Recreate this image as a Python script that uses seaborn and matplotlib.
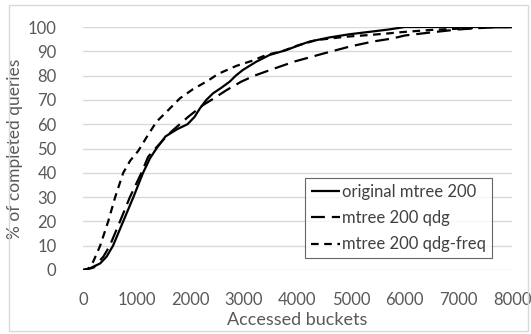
import matplotlib
matplotlib.use("Agg")
import matplotlib.pyplot as plt
import seaborn as sns
import pandas as pd
from matplotlib.patches import Rectangle

# ---- data ----
orig_x = [0, 130, 320, 440, 560, 750, 940, 1120, 1250, 1370, 1540, 1760, 1950, 2080, 2180, 2300, 2425,
          2580, 2735, 2850, 2980, 3230, 3480, 3790, 4040, 4225, 4595, 4965, 5340, 5710, 6000, 7000, 8000]
orig_y = [0, 0.7, 2.7, 5.5, 10, 20, 30, 40, 46, 50, 55, 58, 60, 63, 66.5, 70, 72.7,
          75, 77.5, 80, 82.3, 85.7, 88.5, 90.5, 92.6, 94, 95.7, 97, 98, 99, 100, 100, 100]

qdg_x = [0, 200, 380, 500, 690, 875, 1090, 1215, 1350, 1495, 1650, 1960, 2240, 2395, 2675, 2950,
         3200, 3540, 3945, 4470, 4965, 5400, 5775, 6000, 6500, 7000, 7500, 8000]
qdg_y = [0, 1, 5.5, 10, 20, 30, 40, 46.6, 50, 53.5, 57, 63, 67.9, 70, 74, 77.5,
         80, 82.7, 85.8, 89, 91.9, 94, 95.3, 96.5, 97.8, 99, 99.7, 100]

freq_x = [0, 80, 190, 320, 470, 600, 750, 880, 1030, 1185, 1370, 1590, 1805, 2050, 2330, 2520,
          2860, 3140, 3420, 3725, 3975, 4350, 4900, 5340, 5710, 6000, 6500, 7000, 7500, 8000]
freq_y = [0, 0, 3.4, 10, 20, 30, 40, 45, 49, 54.6, 61, 65.8, 70.6, 74.4, 77.9, 80.7,
          84, 86, 88.5, 90.1, 92.2, 94.6, 96, 96.7, 97.4, 98, 98.8, 99.3, 99.8, 100]

series_names = ["original mtree 200", "mtree 200 qdg", "mtree 200 qdg-freq"]
x_ticks = [0, 1000, 2000, 3000, 4000, 5000, 6000, 7000, 8000]
y_ticks = [0, 10, 20, 30, 40, 50, 60, 70, 80, 90, 100]

sns.set_theme(style="white")
plt.rcParams["font.family"] = ["Lato", "DejaVu Sans"]
plt.rcParams["lines.scale_dashes"] = False

TXT = "#595959"
W, H = 531, 334
fig = plt.figure(figsize=(W / 100, H / 100), dpi=100)
fig.patch.set_facecolor("white")
# outer chart border
fig.add_artist(Rectangle((9 / W, 1 - 331 / H), (528 - 9) / W, (331 - 5) / H,
                         transform=fig.transFigure, fill=False, edgecolor="#d9d9d9", lw=1))

ax = fig.add_axes([83 / W, 1 - 270 / H, (512 - 83) / W, (270 - 27) / H])

styles = [(0, ()), (0, (10, 5)), (0, (5.5, 4))]
data = [(orig_x, orig_y), (qdg_x, qdg_y), (freq_x, freq_y)]
for name, (xs, ys), ls in zip(series_names, data, styles):
    df = pd.DataFrame({"x": xs, "y": ys})
    sns.lineplot(data=df, x="x", y="y", ax=ax, color="black", lw=1.6,
                 linestyle=ls, label=name, sort=False, estimator=None)

ax.set_xlim(0, 8000)
ax.set_ylim(0, 100)
ax.set_xticks(x_ticks)
ax.set_yticks(y_ticks)
ax.grid(axis="y", color="#d9d9d9", lw=1)
ax.grid(axis="x", visible=False)
for s in ax.spines.values():
    s.set_visible(False)
ax.tick_params(axis="both", length=0, labelsize=12, colors=TXT)
ax.tick_params(axis="y", pad=19)
ax.tick_params(axis="x", pad=16)
ax.set_xlabel("Accessed buckets", fontsize=13, color=TXT, labelpad=3)
ax.set_ylabel("% of completed queries", fontsize=12.5, color=TXT)
ax.yaxis.set_label_coords(-0.14, 0.5)

leg = ax.legend(loc="upper left", bbox_to_anchor=((305 - 83) / 429, 1 - (178 - 27) / 243),
                frameon=True, fancybox=False, fontsize=12, handlelength=1.75,
                handletextpad=0.15, borderpad=0.35, labelspacing=0.62, borderaxespad=0)
leg.get_frame().set_edgecolor("#404040")
leg.get_frame().set_linewidth(0.8)
for t in leg.get_texts():
    t.set_color("#404040")

fig.savefig("out.png", dpi=100, facecolor="white")
